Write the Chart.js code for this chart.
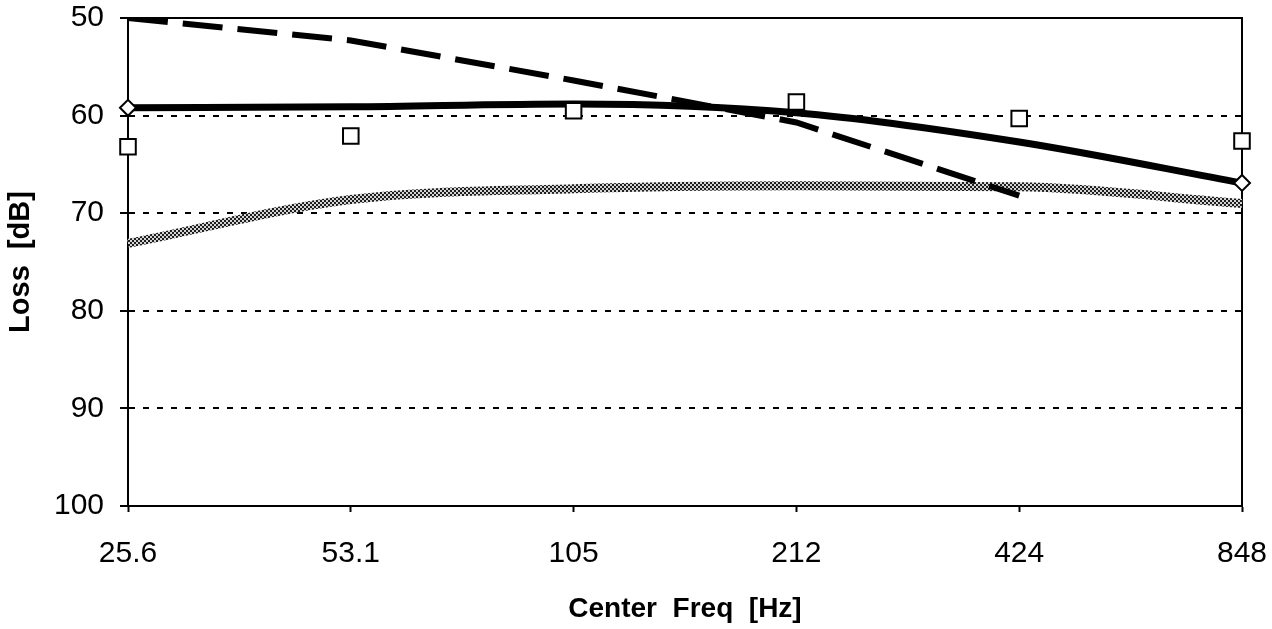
<!DOCTYPE html>
<html>
<head>
<style>
  body { margin: 0; background: white; }
  #wrap { width: 1272px; height: 629px; }
</style>
<script src="https://cdn.jsdelivr.net/npm/chart.js@4.4.1/dist/chart.umd.min.js"></script>
</head>
<body>
<div id="wrap"><canvas id="lossChart" width="1272" height="629"></canvas></div>
<script>
// centre frequencies (Hz)
var freqLabels = ['25.6', '53.1', '105', '212', '424', '848'];

// loss in dB
var solidLoss  = [59.2, 59.1, 58.8, 59.7, 62.7, 66.9];
var squareLoss = [63.2, 62.1, 59.5, 58.6, 60.3, 62.6];
var dashLoss   = [50.0, 52.3, 56.4, 60.7, 68.2, null];
var grayLoss   = [73.1, 68.6, 67.5, 67.2, 67.3, 69.0];

var yTicks = [50, 60, 70, 80, 90, 100];

function hatchPattern() {
  var c = document.createElement('canvas');
  c.width = 4; c.height = 4;
  var g = c.getContext('2d');
  g.fillStyle = '#d4d4d4';
  g.fillRect(0, 0, 4, 4);
  g.fillStyle = '#1e1e1e';
  g.fillRect(0, 0, 2, 2);
  g.fillRect(2, 2, 2, 2);
  return g.createPattern(c, 'repeat');
}

// box round the plot area (top and right edges)
var frame = {
  id: 'frame',
  beforeDatasetsDraw(chart) {
    var a = chart.chartArea, ctx = chart.ctx;
    ctx.save();
    ctx.strokeStyle = '#000';
    ctx.lineWidth = 2;
    ctx.beginPath();
    ctx.moveTo(a.left, a.top);
    ctx.lineTo(a.right, a.top);
    ctx.lineTo(a.right, a.bottom);
    ctx.stroke();
    ctx.restore();
  }
};

var font = "'Liberation Sans', Arial, Helvetica, sans-serif";

new Chart(document.getElementById('lossChart'), {
  type: 'line',
  data: {
    labels: freqLabels,
    datasets: [
      {
        label: 'squares',
        data: squareLoss,
        showLine: false,
        pointStyle: 'rect',
        pointRadius: 11,
        pointBorderWidth: 2,
        pointBorderColor: '#000',
        pointBackgroundColor: '#fff',
        order: 1
      },
      {
        label: 'dashed',
        data: dashLoss,
        borderColor: '#000',
        borderWidth: 6,
        borderDash: [40, 15],
        pointRadius: 0,
        tension: 0,
        order: 2
      },
      {
        label: 'solid',
        data: solidLoss,
        borderColor: '#000',
        borderWidth: 7,
        cubicInterpolationMode: 'monotone',
        pointStyle: 'rectRot',
        pointRadius: [8, 0, 0, 0, 0, 8],
        pointBorderWidth: 2,
        pointBorderColor: '#000',
        pointBackgroundColor: '#fff',
        order: 3
      },
      {
        label: 'gray',
        data: grayLoss,
        borderColor: hatchPattern(),
        borderWidth: 9,
        cubicInterpolationMode: 'monotone',
        pointRadius: 0,
        order: 4
      }
    ]
  },
  options: {
    responsive: false,
    animation: false,
    layout: { padding: { left: 0, top: 18, right: 30, bottom: 0 } },
    plugins: {
      legend: { display: false },
      tooltip: { enabled: false }
    },
    scales: {
      x: {
        offset: false,
        grid: {
          drawOnChartArea: false,
          drawTicks: true,
          tickLength: 6,
          tickColor: '#000',
          tickWidth: 2
        },
        border: { color: '#000', width: 2 },
        ticks: {
          color: '#000',
          padding: 24,
          maxRotation: 0,
          font: { family: font, size: 30 }
        },
        title: {
          display: true,
          text: 'Center  Freq  [Hz]',
          color: '#000',
          padding: { top: 0, bottom: 3 },
          font: { family: font, size: 28, weight: 'bold' }
        },
        afterFit(scale) {
          scale.height = 123;
          scale.paddingLeft = 0;
          scale.paddingRight = 0;
        }
      },
      y: {
        reverse: true,
        min: 50,
        max: 100,
        afterBuildTicks(scale) {
          scale.ticks = yTicks.map(function (v) { return { value: v }; });
        },
        grid: {
          color: function (ctx) {
            var v = ctx.tick ? ctx.tick.value : null;
            return (v === 50 || v === 100) ? 'rgba(0,0,0,0)' : '#000';
          },
          lineWidth: 2,
          tickColor: '#000',
          tickWidth: 2,
          tickLength: 8,
          tickBorderDash: []
        },
        border: { color: '#000', width: 2, dash: [6, 8] },
        ticks: {
          color: '#000',
          padding: 16,
          font: { family: font, size: 30 }
        },
        title: {
          display: true,
          text: 'Loss  [dB]',
          color: '#000',
          padding: { top: 4, bottom: 0 },
          font: { family: font, size: 29, weight: 'bold' }
        },
        afterFit(scale) {
          scale.width = 128;
          scale.paddingTop = 0;
          scale.paddingBottom = 0;
        }
      }
    }
  },
  plugins: [frame]
});
</script>
</body>
</html>
